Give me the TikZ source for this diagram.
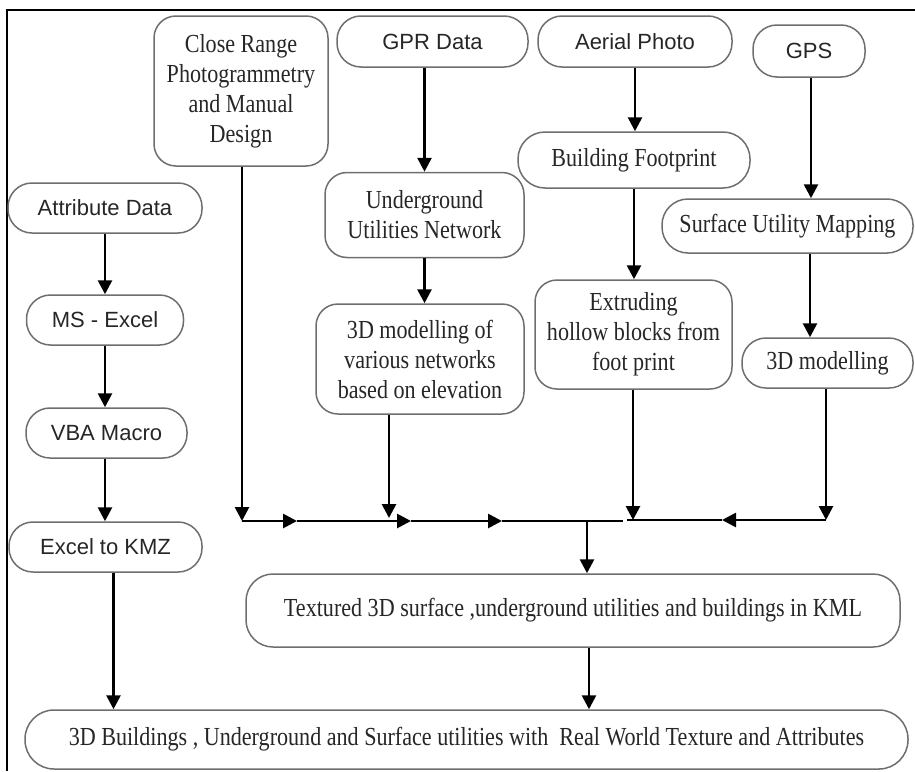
\documentclass[tikz,border=0pt]{standalone}
\usepackage{fontspec}
\setmainfont[FakeStretch=0.85]{Liberation Serif}
\newfontfamily\boxsans{Liberation Sans}
\usetikzlibrary{arrows.meta}
\definecolor{boxgray}{HTML}{6E6E6E}
\definecolor{txtgray}{HTML}{262626}

\begin{document}
\begin{tikzpicture}[x=1pt,y=-1pt,
  box/.style={draw=boxgray, line width=1.5pt, rounded corners=#1, inner sep=0pt,
    align=center, text=txtgray, font=\fontsize{26}{30}\selectfont},
  box/.default=22pt,
  sbox/.style={box=#1, font=\boxsans\fontsize{22}{26}\selectfont},
  sbox/.default=24pt,
  wire/.style={line width=2.7pt, black},
  arr/.style={wire, -{Triangle[length=14pt,width=14pt]}}]

\useasboundingbox (0,0) rectangle (915,771);

% frame
\draw[line width=2.2pt] (915,10) -- (7,10) -- (7,771);

% sources
\node[box, minimum width=174pt, minimum height=150pt] (cr) at (241,91)
  {Close Range\\Photogrammetry\\and Manual\\Design};
\node[sbox, minimum width=191pt, minimum height=51pt] (gpr) at (432.5,41.5) {GPR Data};
\node[sbox, minimum width=194pt, minimum height=51pt] (aer) at (635,41.5) {Aerial Photo};
\node[sbox, minimum width=112pt, minimum height=52pt] (gps) at (809,51) {GPS};

% left column
\node[sbox, minimum width=194pt, minimum height=50pt] (att) at (105,208) {Attribute Data};
\node[sbox, minimum width=157pt, minimum height=50pt] (mse) at (105,320) {MS - Excel};
\node[sbox, minimum width=161pt, minimum height=50pt] (vba) at (106.5,433) {VBA Macro};
\node[sbox, minimum width=193pt, minimum height=50pt] (kmz) at (105.5,547) {Excel to KMZ};

% processing steps
\node[box, minimum width=199pt, minimum height=85pt] (ug) at (424.5,215)
  {Underground\\Utilities Network};
\node[box, minimum width=208pt, minimum height=110pt] (net) at (420,359)
  {3D modelling of\\various networks\\based on elevation};
\node[box=27pt, minimum width=232pt, minimum height=56pt] (bf) at (634,160) {Building Footprint};
\node[box, minimum width=197pt, minimum height=109pt] (ext) at (633.5,334.5)
  {Extruding\\hollow blocks from\\foot print};
\node[box=26pt, minimum width=251pt, minimum height=54pt] (sum) at (787.5,226) {Surface Utility Mapping};
\node[box=24pt, minimum width=171pt, minimum height=50pt] (m3d) at (827.5,363) {3D modelling};

% results
\node[box=27pt, minimum width=654pt, minimum height=73pt] (tex) at (573,610.5)
  {Textured 3D surface ,underground utilities and buildings in KML};
\node[box=29pt, minimum width=883pt, minimum height=59pt] (fin) at (466.5,739.5)
  {3D Buildings , Underground and Surface utilities with\ \ Real World Texture and Attributes};

% left column arrows
\draw[arr] (att.south) -- (att.south |- mse.north);
\draw[arr] (mse.south) -- (mse.south |- vba.north);
\draw[arr] (vba.south -| mse.south) -- (mse.south |- kmz.north);
\draw[arr] ([xshift=8pt]kmz.south) -- ([xshift=8pt]kmz.south |- fin.north);

% source to step arrows
\draw[arr] (ug.north |- gpr.south) -- (ug.north);
\draw[arr] (ug.south) -- (ug.south |- net.north);
\draw[arr] (aer.south) -- (aer.south |- bf.north);
\draw[arr] (bf.south) -- (bf.south |- ext.north);
\draw[arr] ([xshift=2pt]gps.south) -- ([xshift=2pt]gps.south |- sum.north);
\draw[arr] ([xshift=1pt]gps.south |- sum.south) -- ([xshift=1pt]gps.south |- m3d.north);

% collecting bus
\coordinate (bL) at (242,521);
\coordinate (bA) at (297,521);
\coordinate (bB) at (389,518);
\coordinate (bC) at (411,521);
\coordinate (bD) at (502,521);
\coordinate (bJ) at (587,521);
\coordinate (bE) at (623,521);
\coordinate (bF) at (627,520);
\coordinate (bG) at (633,520);
\coordinate (bH) at (722,520);
\coordinate (bR) at (826,520);

\draw[arr] (cr.south -| bL) -- (bL);
\draw[arr] (net.south -| bB) -- (bB);
\draw[arr] (ext.south -| bG) -- (bG);
\draw[arr] (m3d.south -| bR) -- (bR);

\draw[arr] (bL) -- (bA);
\draw[arr] (bA) -- (bC);
\draw[arr] (bC) -- (bD);
\draw[wire] (bD) -- (bE);
\draw[arr] (bR) -- (bH);
\draw[wire] (bH) -- (bF);

\draw[arr] (bJ) -- (bJ |- tex.north);
\draw[arr] ([xshift=16pt]tex.south) -- ([xshift=16pt]tex.south |- fin.north);
\end{tikzpicture}
\end{document}
